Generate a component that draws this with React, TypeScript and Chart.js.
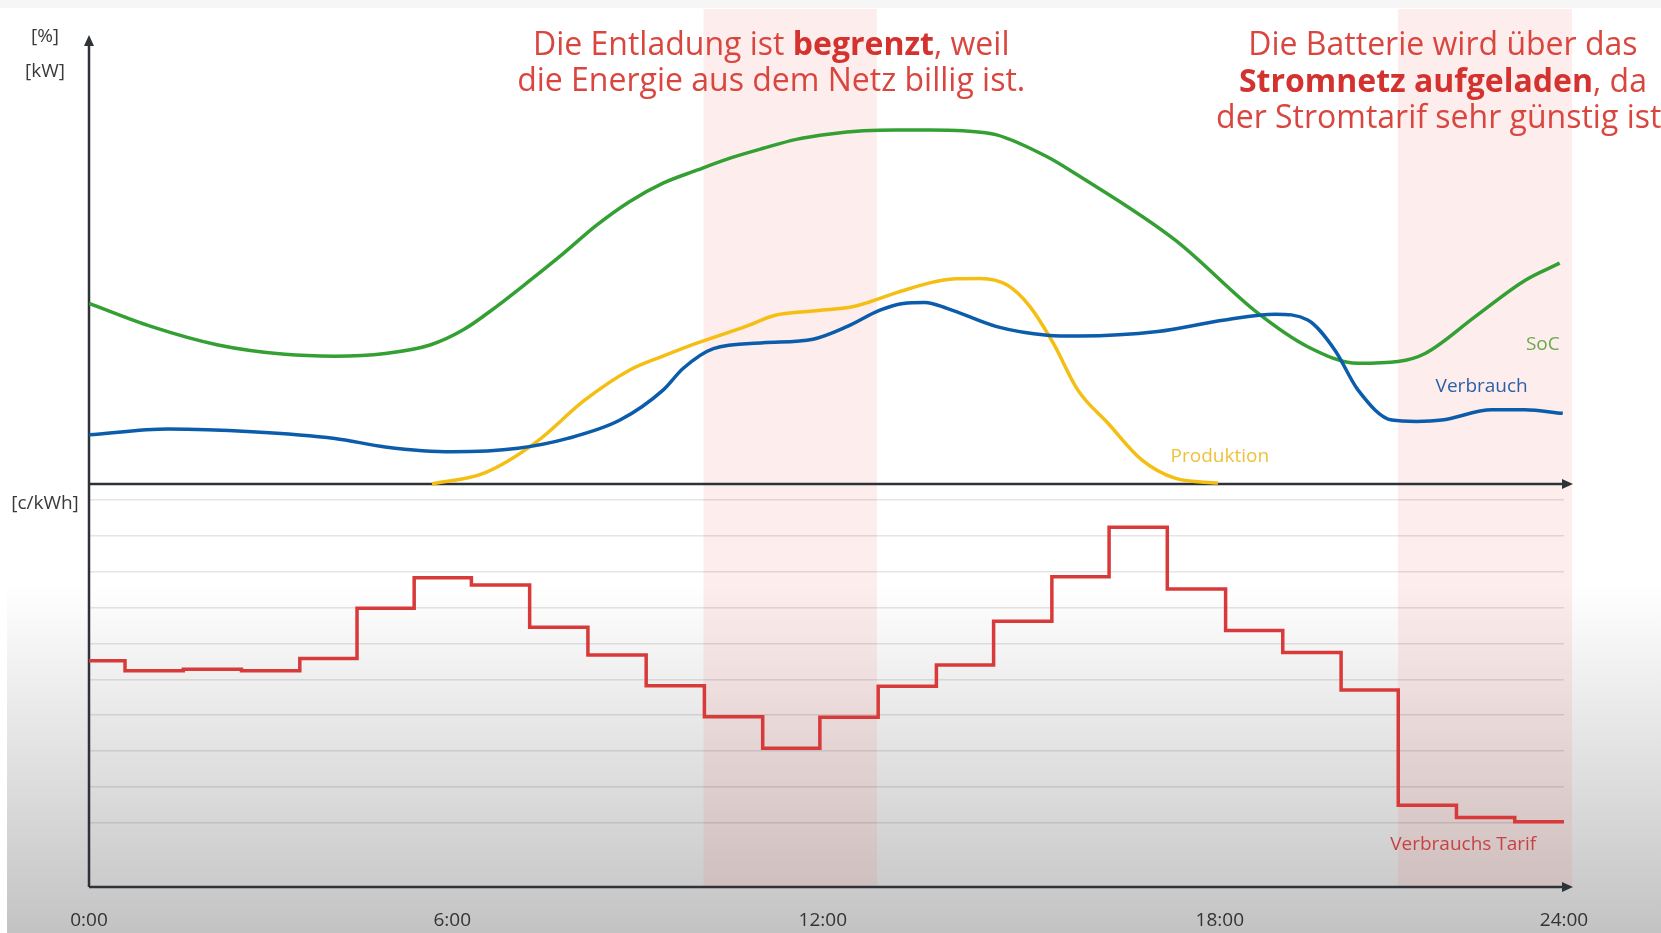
import React, { useEffect, useRef } from "react";
import { Chart, registerables } from "chart.js";

Chart.register(...registerables);

// ---------- data ----------
const xTickHours = [0, 5.91, 11.94, 18.4, 24];
const xTickLabels = ["0:00", "6:00", "12:00", "18:00", "24:00"];

// State of charge (upper panel, %)
const socHours = [0, 1.02, 2.1, 3.19, 4.0, 4.82, 5.55, 6.09, 6.63, 7.18, 7.72, 8.26, 8.8, 9.34, 9.89, 10.43, 10.97, 11.51, 12.06, 12.6, 13.14, 13.68, 14.22, 14.77, 15.59, 16.04, 17.67, 19.02, 19.83, 20.65, 21.3, 21.74, 22.55, 23.37, 23.93];
const socValues = [40.4, 35.2, 31.1, 29.0, 28.6, 29.2, 31.1, 34.5, 39.7, 45.6, 51.6, 57.9, 63.2, 67.3, 70.2, 72.9, 75.1, 77.1, 78.3, 79.0, 79.2, 79.2, 79.0, 78.1, 73.2, 69.5, 54.6, 38.2, 30.7, 27.0, 27.4, 29.2, 37.4, 45.6, 49.4];

// Consumption (upper panel, kW)
const consHours = [0, 1.29, 2.65, 4.0, 4.82, 5.91, 6.98, 7.79, 8.64, 9.34, 9.67, 10.16, 10.97, 11.78, 12.33, 12.87, 13.25, 13.6, 13.96, 14.77, 15.59, 16.12, 17.39, 18.48, 19.3, 19.83, 20.27, 20.65, 21.2, 21.6, 22.01, 22.83, 23.36, 23.98];
const consValues = [11.0, 12.3, 11.7, 10.2, 8.3, 7.2, 8.0, 10.2, 14.3, 21.0, 25.9, 30.3, 31.6, 32.4, 35.2, 38.9, 40.4, 40.6, 39.3, 35.2, 33.3, 33.1, 34.1, 36.7, 38.0, 36.7, 30.0, 21.0, 14.3, 14.0, 14.3, 16.6, 16.6, 15.8];

// Production (upper panel, kW)
const prodHours = [5.58, 6.44, 7.26, 8.07, 8.8, 9.34, 9.89, 10.7, 11.15, 11.78, 12.44, 13.14, 13.68, 14.1, 14.5, 14.94, 15.31, 15.69, 16.09, 16.58, 17.13, 17.67, 18.37];
const prodValues = [0, 2.5, 9.2, 18.8, 25.5, 28.6, 31.5, 35.3, 37.7, 38.7, 39.7, 42.8, 45.0, 45.9, 46.0, 44.5, 39.7, 31.5, 21.0, 13.6, 5.4, 1.3, 0.2];

// Consumption tariff (lower panel, value from each step start)
const tariffHours = [0, 0.586, 1.534, 2.481, 3.43, 4.361, 5.291, 6.222, 7.17, 8.118, 9.066, 10.013, 10.962, 11.892, 12.841, 13.788, 14.719, 15.667, 16.598, 17.545, 18.494, 19.424, 20.373, 21.303, 22.25, 23.199, 24];
const tariffValues = [4.52, 4.24, 4.28, 4.24, 4.58, 5.98, 6.83, 6.63, 5.45, 4.68, 3.82, 2.96, 2.08, 2.94, 3.81, 4.4, 5.62, 6.86, 8.24, 6.52, 5.36, 4.75, 3.7, 0.49, 0.15, 0.03, 0.03];

const tariffGridLevels = [0, 1, 2, 3, 4, 5, 6, 7, 8, 9];

// Highlighted time windows (hours)
const windowStarts = [10.0, 21.3];
const windowEnds = [12.82, 24.13];

// Annotation texts
type Seg = { t: string; b?: boolean };
const noteDischarge: Seg[][] = [
  [{ t: "Die Entladung ist " }, { t: "begrenzt", b: true }, { t: ", weil" }],
  [{ t: "die Energie aus dem Netz billig ist." }],
];
const noteCharge: Seg[][] = [
  [{ t: "Die Batterie wird über das" }],
  [{ t: "Stromnetz aufgeladen", b: true }, { t: ", da" }],
  [{ t: "der Stromtarif sehr günstig ist." }],
];

const FONT = '"Open Sans", "Noto Sans", sans-serif';

const GREEN = "#34a034";
const BLUE = "#0b5cab";
const YELLOW = "#f5be12";
const RED = "#d83a3a";
const AXIS = "#2e3338";

function drawRichLine(ctx: CanvasRenderingContext2D, segs: Seg[], cx: number, baseline: number, size: number) {
  const fN = `${size}px ${FONT}`;
  const fB = `bold ${size}px ${FONT}`;
  let total = 0;
  const widths = segs.map((s) => {
    ctx.font = s.b ? fB : fN;
    const w = ctx.measureText(s.t).width;
    total += w;
    return w;
  });
  let x = cx - total / 2;
  ctx.textAlign = "left";
  ctx.textBaseline = "alphabetic";
  segs.forEach((s, i) => {
    ctx.font = s.b ? fB : fN;
    ctx.fillStyle = s.b ? "#d3322f" : "#d9463f";
    ctx.fillText(s.t, x, baseline);
    x += widths[i];
  });
}

const decor = {
  id: "decor",
  beforeDraw(chart: any) {
    const { ctx, width, height, scales, chartArea } = chart;
    ctx.save();
    ctx.fillStyle = "#ffffff";
    ctx.fillRect(0, 0, width, height);
    ctx.fillStyle = "#f6f6f6";
    ctx.fillRect(0, 0, width, 8);
    const g = ctx.createLinearGradient(0, 585, 0, height);
    g.addColorStop(0, "rgba(195,195,195,0)");
    g.addColorStop(1, "rgba(195,195,195,1)");
    ctx.fillStyle = g;
    ctx.fillRect(7, 585, width - 7, height - 585);
    // highlighted windows
    ctx.fillStyle = "rgba(235,110,110,0.12)";
    windowStarts.forEach((a, i) => {
      const x0 = scales.x.getPixelForValue(a);
      const x1 = scales.x.getPixelForValue(windowEnds[i]);
      ctx.fillRect(x0, 9, x1 - x0, chartArea.bottom - 9);
    });
    ctx.restore();
  },
  beforeDatasetsDraw(chart: any) {
    const { ctx, scales, chartArea } = chart;
    const left = chartArea.left;
    const bottom = chartArea.bottom;
    const yZero = scales.y.getPixelForValue(0);
    const right = chartArea.right + 9;
    ctx.save();
    ctx.strokeStyle = AXIS;
    ctx.fillStyle = AXIS;
    ctx.lineWidth = 2.5;
    ctx.beginPath();
    ctx.moveTo(left, bottom);
    ctx.lineTo(left, chartArea.top + 8);
    ctx.moveTo(left, yZero);
    ctx.lineTo(right - 8, yZero);
    ctx.moveTo(left, bottom);
    ctx.lineTo(right - 8, bottom);
    ctx.stroke();
    const tri = (pts: number[][]) => {
      ctx.beginPath();
      ctx.moveTo(pts[0][0], pts[0][1]);
      ctx.lineTo(pts[1][0], pts[1][1]);
      ctx.lineTo(pts[2][0], pts[2][1]);
      ctx.closePath();
      ctx.fill();
    };
    const topTip = chartArea.top - 2;
    tri([[left, topTip], [left - 5, topTip + 11], [left + 5, topTip + 11]]);
    tri([[right, yZero], [right - 11, yZero - 5], [right - 11, yZero + 5]]);
    tri([[right, bottom], [right - 11, bottom - 5], [right - 11, bottom + 5]]);
    ctx.restore();
  },
  afterDraw(chart: any) {
    const { ctx, scales, chartArea } = chart;
    const x = scales.x;
    const y = scales.y;
    const y2 = scales.y2;
    ctx.save();
    // unit labels
    ctx.font = `19px ${FONT}`;
    ctx.fillStyle = "#3a3a3a";
    ctx.textAlign = "center";
    ctx.textBaseline = "middle";
    ctx.fillText("[%]", 45, chartArea.top);
    ctx.fillText("[kW]", 45, chartArea.top + 35);
    ctx.fillText("[c/kWh]", 45, y.getPixelForValue(0) + 20);

    // series labels
    ctx.font = `19px ${FONT}`;
    ctx.textAlign = "right";
    ctx.fillStyle = "#6aaa4a";
    ctx.fillText("SoC", x.getPixelForValue(23.93), y.getPixelForValue(31.1));
    ctx.fillStyle = "#2d5fa6";
    ctx.fillText("Verbrauch", x.getPixelForValue(23.41), y.getPixelForValue(21.8));
    ctx.textAlign = "center";
    ctx.fillStyle = "#efc23a";
    ctx.fillText("Produktion", x.getPixelForValue(18.4), y.getPixelForValue(6.1));
    ctx.fillStyle = "#c84242";
    ctx.fillText("Verbrauchs Tarif", x.getPixelForValue(22.36), y2.getPixelForValue(-0.6));

    // annotations
    const b1 = [96.0, 87.9];
    noteDischarge.forEach((line, i) => drawRichLine(ctx, line, x.getPixelForValue(11.1), y.getPixelForValue(b1[i]), 32));
    const b2 = [96.0, 87.8, 79.6];
    noteCharge.forEach((line, i) => drawRichLine(ctx, line, x.getPixelForValue(22.03), y.getPixelForValue(b2[i]), 32));
    ctx.restore();
  },
};

function pts(xs: number[], ys: number[]) {
  return xs.map((h, i) => ({ x: h, y: ys[i] }));
}

export default function App() {
  const ref = useRef<HTMLCanvasElement>(null);
  useEffect(() => {
    const canvas = ref.current;
    if (!canvas) return;
    const common = { pointRadius: 0, borderWidth: 3.5, fill: false, cubicInterpolationMode: "monotone" as const };
    const chart = new Chart(canvas, {
      type: "line",
      data: {
        datasets: [
          { ...common, label: "Verbrauch", data: pts(consHours, consValues), borderColor: BLUE, yAxisID: "y", order: 1 },
          { ...common, label: "Produktion", data: pts(prodHours, prodValues), borderColor: YELLOW, yAxisID: "y", order: 2 },
          { ...common, label: "SoC", data: pts(socHours, socValues), borderColor: GREEN, yAxisID: "y", order: 3 },
          { label: "Verbrauchs Tarif", data: pts(tariffHours, tariffValues), borderColor: RED, borderWidth: 3.5, pointRadius: 0, fill: false, stepped: "before", yAxisID: "y2", order: 0 },
        ],
      },
      options: {
        responsive: true,
        maintainAspectRatio: false,
        animation: false,
        layout: { padding: { left: 89, right: 97, top: 37, bottom: 0 } },
        plugins: { legend: { display: false }, tooltip: { enabled: false } },
        scales: {
          x: {
            type: "linear",
            min: 0,
            max: 24,
            grid: { display: false, drawTicks: false },
            border: { display: false },
            afterBuildTicks: (s: any) => {
              s.ticks = xTickHours.map((v) => ({ value: v }));
            },
            afterFit: (s: any) => {
              s.height = 46;
            },
            ticks: {
              autoSkip: false,
              maxRotation: 0,
              minRotation: 0,
              padding: 22,
              color: "#333333",
              font: { family: FONT, size: 19 },
              callback: (_v: any, i: number) => xTickLabels[i],
            },
          },
          y: { display: false, min: -90.16, max: 100 },
          y2: {
            display: true,
            position: "left",
            min: -1.79,
            max: 21.91,
            afterBuildTicks: (s: any) => {
              s.ticks = tariffGridLevels.map((v) => ({ value: v }));
            },
            afterFit: (s: any) => {
              s.width = 0;
            },
            ticks: { display: false },
            grid: { color: "rgba(0,0,0,0.1)", lineWidth: 1.5, drawTicks: false },
            border: { display: false },
          },
        },
      } as any,
      plugins: [decor],
    });
    return () => chart.destroy();
  }, []);
  return (
    <div style={{ position: "fixed", left: 0, top: 0, width: 1661, height: 933 }}>
      <canvas ref={ref} />
    </div>
  );
}
